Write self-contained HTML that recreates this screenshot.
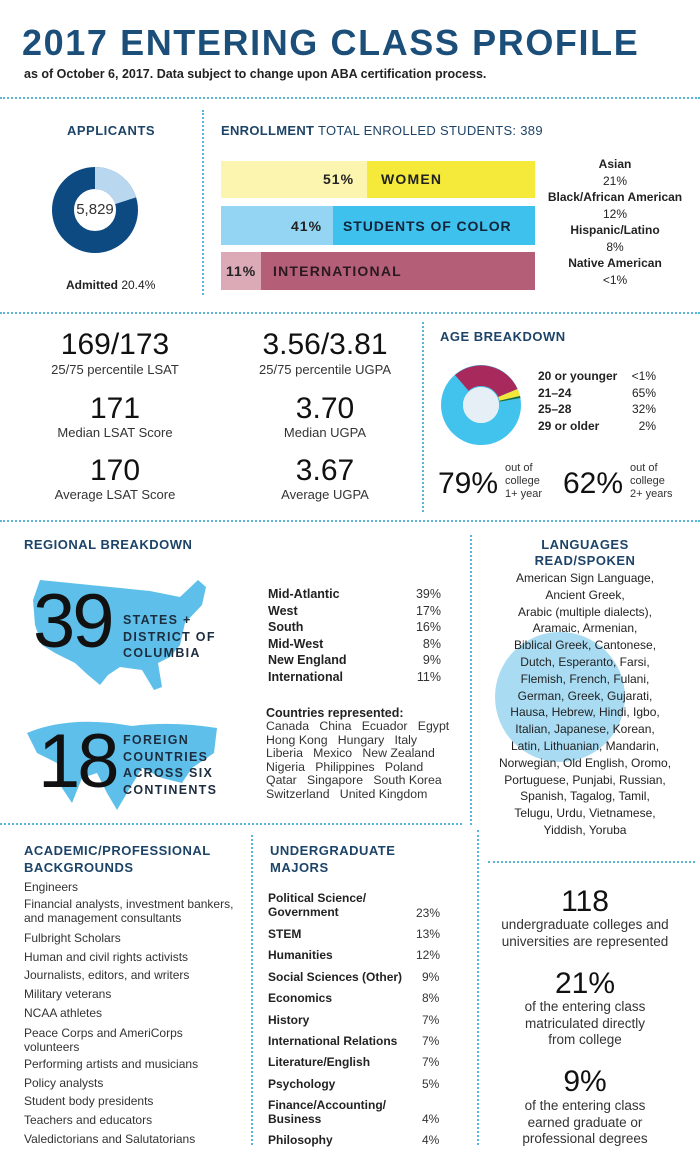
<!DOCTYPE html>
<html><head><meta charset="utf-8">
<style>
*{margin:0;padding:0;box-sizing:border-box}
body{width:700px;height:1167px;background:#fff;position:relative;overflow:hidden;font-family:"Liberation Sans",sans-serif;color:#222}
.a{position:absolute;white-space:nowrap}
.h{color:#1d4468;font-weight:bold;font-size:13px;letter-spacing:0.5px}
.hd{position:absolute;border-top:2px dotted #5bb5d5}
.vd{position:absolute;border-left:2px dotted #5bb5d5}
.c{text-align:center}
.big{font-size:30px;color:#111}
.sm{font-size:13px;color:#333}
.l{font-size:12px;line-height:18.7px;color:#333}
.mj{font-size:12px;font-weight:bold;color:#222}
</style></head><body>

<div class="a" style="left:22px;top:22px;font-size:36px;font-weight:bold;color:#1b4f7a;letter-spacing:1.6px">2017 ENTERING CLASS PROFILE</div>
<div class="a" style="left:24px;top:67px;font-size:12.5px;font-weight:bold;color:#222">as of October 6, 2017. Data subject to change upon ABA certification process.</div>
<div class="hd" style="left:0;top:97px;width:700px"></div>

<!-- applicants -->
<div class="a h" style="left:67px;top:123px">APPLICANTS</div>
<svg class="a" style="left:50px;top:165px" width="90" height="90" viewBox="-45 -45 90 90">
<circle r="32" fill="none" stroke="#0d4a82" stroke-width="22"/>
<path d="M0,-43 A43,43 0 0 1 41.1,-12.6 L20.1,-5.9 A21,21 0 0 0 0,-21Z" fill="#b9d8ef"/>
</svg>
<div class="a" style="left:60px;top:201px;width:70px;text-align:center;font-size:15px;color:#333">5,829</div>
<div class="a" style="left:66px;top:278px;font-size:12px"><b>Admitted</b> 20.4%</div>
<div class="vd" style="left:202px;top:110px;height:185px"></div>

<!-- enrollment -->
<div class="a" style="left:221px;top:123px;font-size:13px;color:#1d4468;letter-spacing:0.3px"><b>ENROLLMENT</b> TOTAL ENROLLED STUDENTS: 389</div>
<div class="a" style="left:221px;top:161px;width:146px;height:37px;background:#fbf5b0"></div>
<div class="a" style="left:367px;top:161px;width:168px;height:37px;background:#f5ea3a"></div>
<div class="a" style="left:221px;top:206px;width:112px;height:39px;background:#93d5f2"></div>
<div class="a" style="left:333px;top:206px;width:202px;height:39px;background:#3fc1ee"></div>
<div class="a" style="left:221px;top:252px;width:40px;height:38px;background:#dbaab6"></div>
<div class="a" style="left:261px;top:252px;width:274px;height:38px;background:#b45e77"></div>
<div class="a" style="left:323px;top:171px;font-size:14px;font-weight:bold;letter-spacing:1px">51%</div>
<div class="a" style="left:381px;top:171px;font-size:14px;font-weight:bold;letter-spacing:1.2px">WOMEN</div>
<div class="a" style="left:291px;top:218px;font-size:14px;font-weight:bold;letter-spacing:1px">41%</div>
<div class="a" style="left:343px;top:218px;font-size:14px;font-weight:bold;letter-spacing:0.9px;color:#13233a">STUDENTS OF COLOR</div>
<div class="a" style="left:226px;top:263px;font-size:14px;font-weight:bold;letter-spacing:1px">11%</div>
<div class="a" style="left:273px;top:263px;font-size:14px;font-weight:bold;letter-spacing:1.2px;color:#2a1a1f">INTERNATIONAL</div>
<div class="a c" style="left:540px;top:156px;width:150px;font-size:12px;line-height:16.5px">
<b>Asian</b><br>21%<br><b>Black/African American</b><br>12%<br><b>Hispanic/Latino</b><br>8%<br><b>Native American</b><br>&lt;1%</div>

<div class="hd" style="left:0;top:312px;width:700px"></div>

<!-- stats -->
<div class="a c big" style="left:15px;top:328px;width:200px">169/173</div>
<div class="a c sm" style="left:15px;top:362px;width:200px">25/75 percentile LSAT</div>
<div class="a c big" style="left:15px;top:392px;width:200px">171</div>
<div class="a c sm" style="left:15px;top:425px;width:200px">Median LSAT Score</div>
<div class="a c big" style="left:15px;top:454px;width:200px">170</div>
<div class="a c sm" style="left:15px;top:487px;width:200px">Average LSAT Score</div>
<div class="a c big" style="left:225px;top:328px;width:200px">3.56/3.81</div>
<div class="a c sm" style="left:225px;top:362px;width:200px">25/75 percentile UGPA</div>
<div class="a c big" style="left:225px;top:392px;width:200px">3.70</div>
<div class="a c sm" style="left:225px;top:425px;width:200px">Median UGPA</div>
<div class="a c big" style="left:225px;top:454px;width:200px">3.67</div>
<div class="a c sm" style="left:225px;top:487px;width:200px">Average UGPA</div>
<div class="vd" style="left:422px;top:322px;height:190px"></div>

<!-- age -->
<div class="a h" style="left:440px;top:329px">AGE BREAKDOWN</div>
<svg class="a" style="left:440px;top:364px" width="82" height="82" viewBox="-41 -41 82 82">
<circle r="29" fill="none" stroke="#42c3ee" stroke-width="22"/>
<path d="M-26,-30 A40,40 0 0 1 36.5,-16 L17.3,-8 A19,19 0 0 0 -12.5,-14.3Z" fill="#a82a5c"/>
<path d="M36.5,-16 A40,40 0 0 1 39,-9 L18.5,-4.3 A19,19 0 0 0 17.3,-8Z" fill="#f2e83a"/>
<path d="M39,-9 A40,40 0 0 1 39.5,-7 L18.7,-3.4 A19,19 0 0 0 18.5,-4.3Z" fill="#1d6a3a"/>
<circle r="18" fill="#e6eff6"/>
</svg>
<div class="a" style="left:538px;top:368px;font-size:12px;line-height:16.5px;font-weight:bold">20 or younger<br>21–24<br>25–28<br>29 or older</div>
<div class="a" style="left:620px;top:368px;width:36px;text-align:right;font-size:12px;line-height:16.5px">&lt;1%<br>65%<br>32%<br>2%</div>
<div class="a" style="left:438px;top:467px;font-size:30px;color:#111">79%</div>
<div class="a" style="left:505px;top:462px;font-size:11px;line-height:13px;color:#333">out of<br>college<br>1+ year</div>
<div class="a" style="left:563px;top:467px;font-size:30px;color:#111">62%</div>
<div class="a" style="left:630px;top:462px;font-size:11px;line-height:13px;color:#333">out of<br>college<br>2+ years</div>

<div class="hd" style="left:0;top:520px;width:700px"></div>

<!-- regional -->
<div class="a h" style="left:24px;top:537px">REGIONAL BREAKDOWN</div>
<svg class="a" style="left:30px;top:575px" width="180" height="125" viewBox="0 0 180 125">
<path d="M10,5 L60,10 L120,16 L150,22 L168,5 L176,12 L172,30 L155,48 L150,70 L140,82 L128,88 L132,112 L124,115 L112,95 L90,92 L78,100 L70,110 L58,100 L45,88 L25,78 L12,70 L5,50 L3,25Z" fill="#5ec0ea"/>
</svg>
<div class="a" style="left:33px;top:582px;font-size:76px;color:#111;line-height:80px;letter-spacing:-3px">39</div>
<div class="a" style="left:123px;top:612px;font-size:12.5px;font-weight:bold;letter-spacing:1.3px;line-height:16.5px;color:#1d2d40">STATES +<br>DISTRICT OF<br>COLUMBIA</div>
<svg class="a" style="left:22px;top:718px" width="200" height="95" viewBox="0 0 200 95">
<path d="M5,15 Q40,0 90,5 L110,8 Q150,3 195,10 L192,35 L170,50 L160,65 L140,60 L120,50 L105,75 L95,92 L85,75 L75,55 L60,60 L50,85 L40,70 L35,45 L15,35Z" fill="#5ec0ea"/>
</svg>
<div class="a" style="left:38px;top:722px;font-size:76px;color:#111;line-height:80px;letter-spacing:-3px">18</div>
<div class="a" style="left:123px;top:732px;font-size:12.5px;font-weight:bold;letter-spacing:1.3px;line-height:16.5px;color:#1d2d40">FOREIGN<br>COUNTRIES<br>ACROSS SIX<br>CONTINENTS</div>
<div class="a" style="left:268px;top:586px;font-size:12.5px;line-height:16.5px;font-weight:bold">Mid-Atlantic<br>West<br>South<br>Mid-West<br>New England<br>International</div>
<div class="a" style="left:400px;top:586px;width:41px;text-align:right;font-size:12.5px;line-height:16.5px;color:#333">39%<br>17%<br>16%<br>8%<br>9%<br>11%</div>
<div class="a" style="left:266px;top:706px;font-size:12.5px;font-weight:bold">Countries represented:</div>
<div class="a" style="left:266px;top:720px;font-size:12.3px;line-height:13.6px;color:#333">Canada&nbsp;&nbsp; China&nbsp;&nbsp; Ecuador&nbsp;&nbsp; Egypt<br>Hong&nbsp;Kong&nbsp;&nbsp; Hungary&nbsp;&nbsp; Italy<br>Liberia&nbsp;&nbsp; Mexico&nbsp;&nbsp; New&nbsp;Zealand<br>Nigeria&nbsp;&nbsp; Philippines&nbsp;&nbsp; Poland<br>Qatar&nbsp;&nbsp; Singapore&nbsp;&nbsp; South&nbsp;Korea<br>Switzerland&nbsp;&nbsp; United&nbsp;Kingdom</div>
<div class="vd" style="left:470px;top:535px;height:290px"></div>

<!-- languages -->
<div class="a" style="left:495px;top:632px;width:130px;height:130px;border-radius:50%;background:#a9dcf3"></div>
<div class="a h c" style="left:485px;top:537px;width:200px;line-height:16px">LANGUAGES<br>READ/SPOKEN</div>
<div class="a c" style="left:480px;top:570px;width:210px;font-size:12px;line-height:16.8px;color:#222;white-space:normal">American Sign Language,<br>Ancient Greek,<br>Arabic (multiple dialects),<br>Aramaic, Armenian,<br>Biblical Greek, Cantonese,<br>Dutch, Esperanto, Farsi,<br>Flemish, French, Fulani,<br>German, Greek, Gujarati,<br>Hausa, Hebrew, Hindi, Igbo,<br>Italian, Japanese, Korean,<br>Latin, Lithuanian, Mandarin,<br>Norwegian, Old English, Oromo,<br>Portuguese, Punjabi, Russian,<br>Spanish, Tagalog, Tamil,<br>Telugu, Urdu, Vietnamese,<br>Yiddish, Yoruba</div>

<div class="hd" style="left:0;top:823px;width:462px"></div>
<div class="vd" style="left:251px;top:835px;height:310px"></div>
<div class="vd" style="left:477px;top:830px;height:315px"></div>
<div class="hd" style="left:488px;top:861px;width:207px"></div>

<!-- academic -->
<div class="a h" style="left:24px;top:842px;line-height:17px">ACADEMIC/PROFESSIONAL<br>BACKGROUNDS</div>
<div class="a l" style="left:24px;top:878px">Engineers</div>
<div class="a l" style="left:24px;top:897px;line-height:14px">Financial analysts, investment bankers,<br>and management consultants</div>
<div class="a l" style="left:24px;top:929px">Fulbright Scholars<br>Human and civil rights activists<br>Journalists, editors, and writers<br>Military veterans<br>NCAA athletes</div>
<div class="a l" style="left:24px;top:1026px;line-height:14px">Peace Corps and AmeriCorps<br>volunteers</div>
<div class="a l" style="left:24px;top:1055px">Performing artists and musicians<br>Policy analysts<br>Student body presidents<br>Teachers and educators<br>Valedictorians and Salutatorians</div>

<!-- majors -->
<div class="a h" style="left:270px;top:842px;line-height:17px">UNDERGRADUATE<br>MAJORS</div>
<div class="a mj" style="left:268px;top:891px;line-height:14px">Political Science/<br>Government</div>
<div class="a sm" style="left:416px;top:906px;font-size:12px">23%</div>
<div class="a mj" style="left:268px;top:927px">STEM</div><div class="a sm" style="left:416px;top:927px;font-size:12px">13%</div>
<div class="a mj" style="left:268px;top:948px">Humanities</div><div class="a sm" style="left:416px;top:948px;font-size:12px">12%</div>
<div class="a mj" style="left:268px;top:970px">Social Sciences (Other)</div><div class="a sm" style="left:422px;top:970px;font-size:12px">9%</div>
<div class="a mj" style="left:268px;top:991px">Economics</div><div class="a sm" style="left:422px;top:991px;font-size:12px">8%</div>
<div class="a mj" style="left:268px;top:1013px">History</div><div class="a sm" style="left:422px;top:1013px;font-size:12px">7%</div>
<div class="a mj" style="left:268px;top:1034px">International Relations</div><div class="a sm" style="left:422px;top:1034px;font-size:12px">7%</div>
<div class="a mj" style="left:268px;top:1055px">Literature/English</div><div class="a sm" style="left:422px;top:1055px;font-size:12px">7%</div>
<div class="a mj" style="left:268px;top:1077px">Psychology</div><div class="a sm" style="left:422px;top:1077px;font-size:12px">5%</div>
<div class="a mj" style="left:268px;top:1098px;line-height:14px">Finance/Accounting/<br>Business</div>
<div class="a sm" style="left:422px;top:1112px;font-size:12px">4%</div>
<div class="a mj" style="left:268px;top:1133px">Philosophy</div><div class="a sm" style="left:422px;top:1133px;font-size:12px">4%</div>

<!-- right stats -->
<div class="a c" style="left:485px;top:885px;width:200px;font-size:30px;color:#111">118</div>
<div class="a c" style="left:485px;top:917px;width:200px;font-size:13.5px;line-height:16.5px;color:#333">undergraduate colleges and<br>universities are represented</div>
<div class="a c" style="left:485px;top:967px;width:200px;font-size:30px;color:#111">21%</div>
<div class="a c" style="left:485px;top:999px;width:200px;font-size:13.5px;line-height:16.5px;color:#333">of the entering class<br>matriculated directly<br>from college</div>
<div class="a c" style="left:485px;top:1065px;width:200px;font-size:30px;color:#111">9%</div>
<div class="a c" style="left:485px;top:1098px;width:200px;font-size:13.5px;line-height:16.5px;color:#333">of the entering class<br>earned graduate or<br>professional degrees</div>

</body></html>
